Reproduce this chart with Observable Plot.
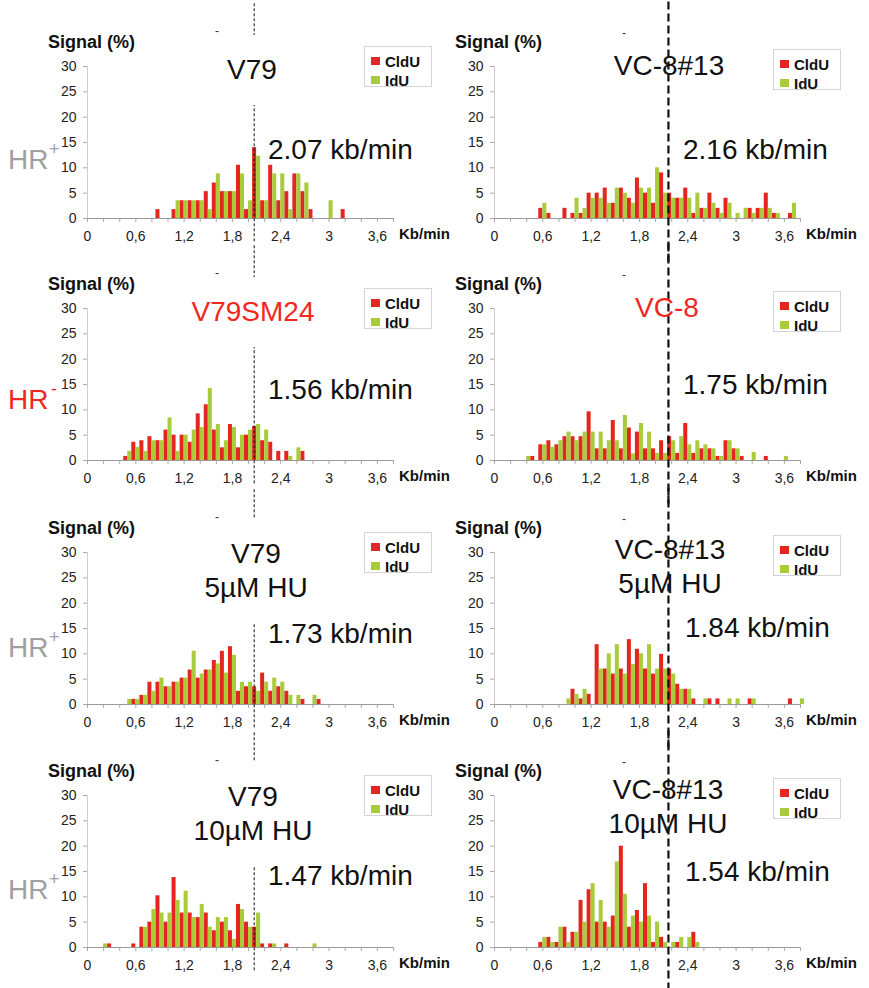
<!DOCTYPE html>
<html><head><meta charset="utf-8">
<script src="https://cdn.jsdelivr.net/npm/d3@7"></script>
<script src="https://cdn.jsdelivr.net/npm/@observablehq/plot@0.6"></script>
<style>
body{margin:0;background:#fff;}
#chart{position:relative;width:869px;height:988px;overflow:hidden;background:#fff;font-family:"Liberation Sans",Arial,sans-serif;color:#111;}
.abs{position:absolute;white-space:nowrap;line-height:1;}
.ctr{transform:translate(-50%,-50%);text-align:center;}
.vmid{transform:translateY(-50%);}
.legend{position:absolute;border:1px solid #d4d4d4;background:#fff;}
.legend .sq{position:absolute;width:9px;height:8px;}
.legend .lt{position:absolute;font-weight:bold;font-size:15px;line-height:1;transform:translateY(-50%);}
</style></head>
<body><div id="chart"></div>
<script>
// ---- data (bin centres in kb/min, signal in %) ----
const bins = [0.2,0.3,0.4,0.5,0.6,0.7,0.8,0.9,1.0,1.1,1.2,1.3,1.4,1.5,1.6,1.7,1.8,1.9,2.0,2.1,2.2,2.3,2.4,2.5,2.6,2.7,2.8,2.9,3.0,3.1,3.2,3.3,3.4,3.5,3.6,3.7,3.8];

const v79CldU   = [0,0,0,0,0,0,0,1.75,0,1.75,3.5,3.5,3.5,5.3,7,5.3,5.3,10.5,1.75,14,3.5,10.5,3.5,5.3,8.8,5.3,1.75,0,0,0,1.75,0,0,0,0,0,0];
const v79IdU    = [0,0,0,0,0,0,0,0,0,3.5,3.5,3.5,3.5,1.75,8.8,5.3,5.3,8.8,3.5,12.3,3.5,8.8,8.8,1.75,8.8,7,0,0,3.5,0,0,0,0,0,0,0,0];

const vc813CldU = [0,0,0,0,2,1,0,2,1,1,5,5,6,3,6,4,8,5,3,9,5,4,6,1,2,5,2,4,0,0,2,2,5,1,0,1,0];
const vc813IdU  = [0,0,0,0,3,0,0,0,4,2,4,4,3,6,5,3,6,6,10,5,4,4,4,5,2,3,1,3,1,2,1,2,2,1,0,3,0];

const v79sm24CldU = [0,0,0,0.8,3.6,3.9,4.7,3.9,6,5,5,3.6,9.2,11,6,2.5,7.1,2.5,5,6.7,3.9,3.6,1.8,1.8,0,1.8,0,0,0,0,0,0,0,0,0,0,0];
const v79sm24IdU  = [0,0,0,1.8,2.6,1.8,3.9,3.9,8.4,1.8,5,6,6.5,14.2,7.1,3.9,6.5,5,6,7.1,6,0,0,0.8,2.5,0,0,0,0,0,0,0,0,0,0,0,0];

const vc8CldU = [0,0,0,0.8,3.1,3.9,3.1,4.7,4.7,4.7,9.6,2.3,2.3,7.9,2.3,6.4,5.6,2.3,2.3,3.9,4.7,1.4,7.3,1.4,2.3,2.3,0.8,3.9,2.3,0.8,0,0,0.8,0,0,0,0];
const vc8IdU  = [0,0,0.8,0,3.1,2.6,3.9,5.6,3.9,5.6,5.6,5.6,3.9,3.9,8.9,1.3,7.3,5.6,1.4,1.4,3.9,4.7,3.1,3.9,3.1,2.3,0.8,3.9,2.3,0,1.6,0,0,0,0.8,0,0];

const v79hu5CldU = [0,0,0,0,1,1.8,4.4,4.4,3.5,4.4,5.2,6.8,5.2,6.8,8.7,10.5,11.4,2.6,3.5,3.5,6.2,2.6,3.5,2.6,0,1,0,1,0,0,0,0,0,0,0,0,0];
const v79hu5IdU  = [0,0,0,1,1,1.8,2.6,5.2,3.5,4.4,5.2,10.5,6,6.8,8,6.2,9.7,4.4,4.4,2.6,4.4,5.2,4.4,1.8,1.8,0,1.8,0,0,0,0,0,0,0,0,0,0];

const vc813hu5CldU = [0,0,0,0,0,0,0,0,3,1.1,2,11.8,7,6,7,12.8,10.9,7,6,9.9,7,4,3,1.1,0,1.1,1.1,0,0,0,1.1,0,0,0,0,1.1,0];
const vc813hu5IdU  = [0,0,0,0,0,0,0,1.1,2,3,0,7,10,11.8,6,7.9,10,11.8,7,7,6,3,3,0,1.1,0,0,1.1,1.1,0,1.1,0,0,0,0,0,1.1];

const v79hu10CldU = [0,0.7,0,0,0.7,4,5,10.2,5,13.8,6.8,6.8,5.9,6.8,3.3,5,3.3,8.5,5,4,0.7,0.7,0,0.7,0,0,0,0,0,0,0,0,0,0,0,0,0];
const v79hu10IdU  = [0.7,0,0,0,0,4,7.5,6.8,6.8,9.3,11.1,5.9,8.5,4,5.9,5.9,1.6,7.5,4,6.8,0,0.7,0,0,0,0,0.7,0,0,0,0,0,0,0,0,0,0];

const vc813hu10CldU = [0,0,0,0,1,2,1,4,3,9.3,11.4,5,5,6.2,20,4,7.3,12.6,1,2,0,1,0,3,0,0,0,0,0,0,0,0,0,0,0,0,0];
const vc813hu10IdU  = [0,0,0,0,2,1,4,1,3,5,12.6,9.3,4,16.9,10.5,6.2,5,6.2,5,1,1,2,2,1,0,0,0,0,0,0,0,0,0,0,0,0,0];

// ---- text ----
const seriesNames = ["CldU", "IdU"];
const titleLines = [["V79"],["VC-8#13"],["V79SM24"],["VC-8"],["V79","5µM HU"],["VC-8#13","5µM HU"],["V79","10µM HU"],["VC-8#13","10µM HU"]];
const rateLabels = ["2.07 kb/min","2.16 kb/min","1.56 kb/min","1.75 kb/min","1.73 kb/min","1.84 kb/min","1.47 kb/min","1.54 kb/min"];
const refLines = [2.07, 2.16];
const hrSigns = ["+","-","+","+"];
const yTicks = [0,5,10,15,20,25,30];
const xMinorTicks = [0,0.2,0.4,0.6,0.8,1,1.2,1.4,1.6,1.8,2,2.2,2.4,2.6,2.8,3,3.2,3.4,3.6,3.8];
const xTickValues = [0,0.6,1.2,1.8,2.4,3,3.6];
const xTickLabels = ["0","0,6","1,2","1,8","2,4","3","3,6"];
const yLabel = "Signal (%)";
const xLabel = "Kb/min";

const series = [
  [v79CldU, v79IdU],[vc813CldU, vc813IdU],
  [v79sm24CldU, v79sm24IdU],[vc8CldU, vc8IdU],
  [v79hu5CldU, v79hu5IdU],[vc813hu5CldU, vc813hu5IdU],
  [v79hu10CldU, v79hu10IdU],[vc813hu10CldU, vc813hu10IdU]
];

// ---- layout ----
const RED = "#e3261f", GREEN = "#a8cc3a", HRRED = "#f0281e", HRGRAY = "#a0a0a0";
const rowTops = [0, 242, 486, 729];
const colLefts = [0, 407];
const colWidths = [440, 462];
const titleX = [252, 669, 253, 667, 256, 670, 253, 668];
const titleY = [70, 66, 70, 66, 68, 64, 68, 61];
const rateX = [268, 683, 268, 683, 268, 685, 268, 685];
const rateY = [150, 150, 148, 143, 148, 142, 147, 143];
const hrY = [160, 158, 162, 161];

const chart = document.getElementById("chart");
function add(html){ chart.insertAdjacentHTML("beforeend", html); }

series.forEach(([cl, id], i) => {
  const row = Math.floor(i / 2), col = i % 2, top = rowTops[row];
  const table = bins.map((b, k) => ({bin: b, cldu: cl[k], idu: id[k]}));
  const right = col === 1;
  const plot = Plot.plot({
    width: colWidths[col], height: 243,
    marginLeft: 87, marginRight: colWidths[col] - 87 - 306, marginTop: 66, marginBottom: 25,
    x: {domain: [0, 3.8]},
    y: {domain: [0, 30]},
    style: {background: "transparent", overflow: "visible", fontFamily: "'Liberation Sans', Arial, sans-serif", fontSize: "14px", color: "#222"},
    marks: [
      Plot.ruleX([0], {y1: 0, y2: 30, stroke: "#cfcfcf"}),
      Plot.axisY(yTicks, {tickSize: 4, tickPadding: 7, stroke: "#aaa", fill: "#222", fontSize: 14, label: null}),
      Plot.axisX(xMinorTicks, {tickSize: 4, tickFormat: () => "", stroke: "#aaa", label: null}),
      Plot.axisX(xTickValues, {tickSize: 0, tickPadding: 13, tickFormat: d => xTickLabels[xTickValues.indexOf(d)], fill: "#222", fontSize: 14, label: null}),
      Plot.rect(table.filter(d => d.cldu > 0), {x1: d => d.bin - 0.05, x2: d => d.bin, y1: d => 0, y2: "cldu", fill: RED}),
      Plot.rect(table.filter(d => d.idu > 0), {x1: d => d.bin, x2: d => d.bin + 0.05, y1: d => 0, y2: "idu", fill: GREEN}),
      Plot.ruleY([0], {x1: 0, x2: 3.8, stroke: "#999"}),
      right
        ? Plot.ruleX([refLines[1]], {y1: -8.6, y2: 43, stroke: "#111", strokeWidth: 2.2, strokeDasharray: "8,4"})
        : Plot.ruleX([refLines[0]], {y1: -4.6, y2: 42.4, stroke: "#111", strokeWidth: 1, strokeDasharray: "3,2"})
    ]
  });
  const wrap = document.createElement("div");
  wrap.style.cssText = `position:absolute;left:${colLefts[col]}px;top:${top}px;width:${colWidths[col]}px;height:243px;`;
  wrap.appendChild(plot);
  chart.appendChild(wrap);
});

// overlays (text)
series.forEach((_, i) => {
  const row = Math.floor(i / 2), col = i % 2, top = rowTops[row];
  const right = col === 1;
  const x0 = colLefts[col] + 87;
  // y axis label
  add(`<div class="abs vmid" style="left:${x0 - 39}px;top:${top + 42}px;font-weight:bold;font-size:18px;">${yLabel}</div>`);
  // x axis label
  add(`<div class="abs vmid" style="left:${x0 + 312}px;top:${top + 233}px;font-weight:bold;font-size:15px;">${xLabel}</div>`);
  // small dash
  add(`<div class="abs ctr" style="left:${x0 + 130}px;top:${top + (right ? 33 : 31)}px;font-size:12px;color:#333;">-</div>`);
  // title
  const lines = titleLines[i];
  const color = row === 1 ? HRRED : "#111";
  const bg = right ? "transparent" : "#fff";
  const h = lines.length * 34;
  add(`<div class="abs" style="left:${titleX[i]}px;top:${top + titleY[i] - 17}px;transform:translateX(-50%);text-align:center;font-size:28px;line-height:34px;color:${color};background:${bg};padding:${right ? 0 : 18}px 6px;margin-top:${right ? 0 : -18}px;">${lines.join("<br>")}</div>`);
  // rate
  add(`<div class="abs vmid" style="left:${rateX[i]}px;top:${top + rateY[i]}px;font-size:28px;color:#111;">${rateLabels[i]}</div>`);
  // legend
  const lx = right ? 773 : 364, ly = top + (right ? 49 : 46);
  add(`<div class="legend" style="left:${lx}px;top:${ly}px;width:66px;height:39px;">
     <div class="sq" style="left:6px;top:10px;background:${RED}"></div>
     <div class="lt" style="left:20px;top:14px;">${seriesNames[0]}</div>
     <div class="sq" style="left:6px;top:29px;background:${GREEN}"></div>
     <div class="lt" style="left:20px;top:33px;">${seriesNames[1]}</div></div>`);
});

// HR labels
hrSigns.forEach((s, r) => {
  const top = rowTops[r];
  const c = s === "-" ? HRRED : HRGRAY;
  add(`<div class="abs vmid" style="left:8px;top:${top + hrY[r]}px;font-size:28px;color:${c};">HR</div>`);
  add(`<div class="abs vmid" style="left:${s === "-" ? 51 : 49}px;top:${top + hrY[r] - 11}px;font-size:18px;color:${c};">${s}</div>`);
});
</script>
</body></html>
